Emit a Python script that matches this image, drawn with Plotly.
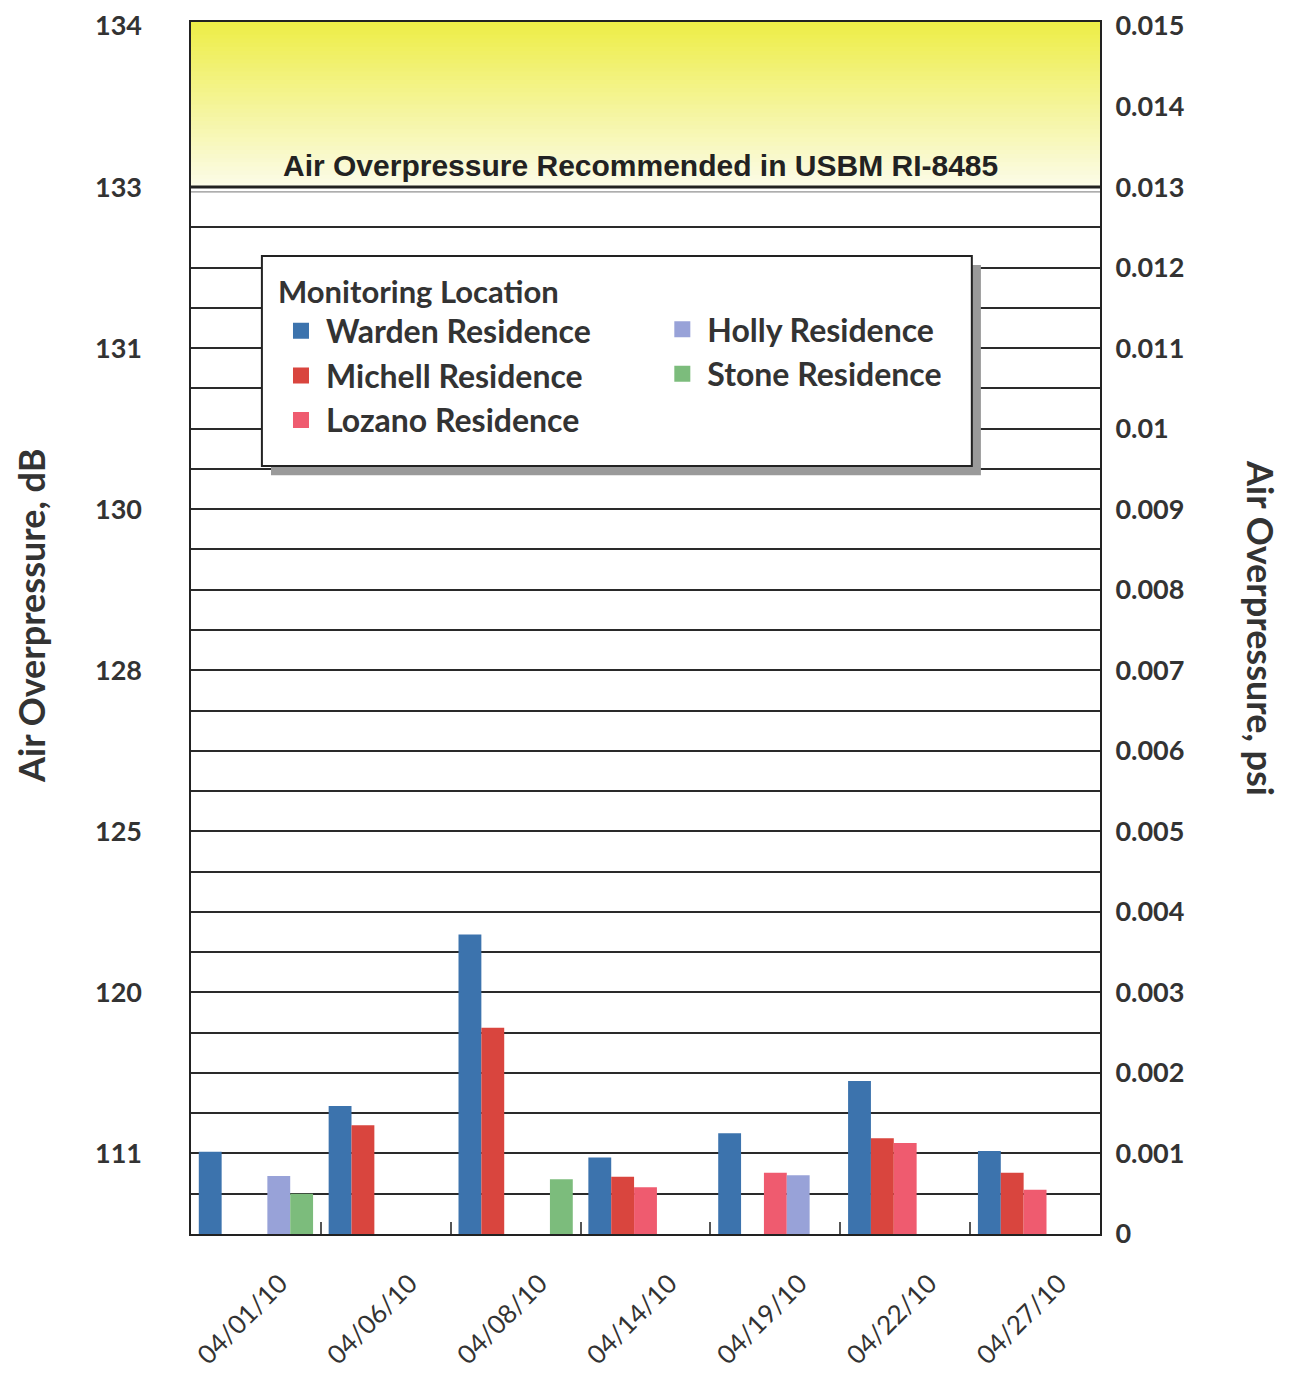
import plotly.graph_objects as go

# ---------------- data ----------------
dates = ["04/01/10", "04/06/10", "04/08/10", "04/14/10", "04/19/10", "04/22/10", "04/27/10"]
series_names = ["Warden Residence", "Michell Residence", "Lozano Residence",
                "Holly Residence", "Stone Residence"]
warden = [0.00102, 0.00159, 0.00372, 0.00095, 0.00125, 0.00190, 0.00103]
michell = [None, 0.00135, 0.00256, 0.00071, None, 0.00119, 0.00076]
lozano = [None, None, None, 0.00058, 0.00076, 0.00113, 0.00055]
holly = [0.00072, None, None, None, 0.00073, None, None]
stone = [0.00050, None, 0.00068, None, None, None, None]
series_values = [warden, michell, lozano, holly, stone]

psi_ticks = [0, 0.001, 0.002, 0.003, 0.004, 0.005, 0.006, 0.007, 0.008,
             0.009, 0.010, 0.011, 0.012, 0.013, 0.014, 0.015]
psi_labels = ["0", "0.001", "0.002", "0.003", "0.004", "0.005", "0.006", "0.007",
              "0.008", "0.009", "0.01", "0.011", "0.012", "0.013", "0.014", "0.015"]
db_tick_psi = [0.001, 0.003, 0.005, 0.007, 0.009, 0.011, 0.013, 0.015]
db_labels = ["111", "120", "125", "128", "130", "131", "133", "134"]
limit_psi = 0.013
limit_label = "Air Overpressure Recommended in USBM RI-8485"

# ---------------- style ----------------
colors = ["#3c73ad", "#d9453e", "#ef5b6f", "#98a2d8", "#7cbc7c"]
FONT = "Lato"
TXT = "#333333"
y_range = [0, 0.01505]

fig = go.Figure()

for name, vals, col in zip(series_names, series_values, colors):
    fig.add_trace(go.Bar(
        x=dates, y=vals, name=name, marker=dict(color=col, line=dict(width=0)),
        showlegend=False, legendgroup=name, yaxis="y",
    ))

# legend entries (larger square symbols), linked to the bar traces
legend_of = ["legend", "legend", "legend", "legend2", "legend2"]
for name, col, lg in zip(series_names, colors, legend_of):
    fig.add_trace(go.Scatter(
        x=[None], y=[None], mode="markers", name=name, legendgroup=name,
        marker=dict(symbol="square", size=16, color=col), legend=lg,
        hoverinfo="skip",
    ))

# invisible trace to carry the dB axis
fig.add_trace(go.Scatter(x=[dates[0]], y=[None], yaxis="y2", showlegend=False,
                         mode="markers", hoverinfo="skip"))

# yellow gradient band above the limit
n_strips = 40
top = y_range[1]
step = (top - limit_psi) / n_strips
for i in range(n_strips):
    f = i / (n_strips - 1)
    r = int(252 + (238 - 252) * f)
    g = int(252 + (238 - 252) * f)
    b = int(232 + (72 - 232) * f)
    y0 = limit_psi + step * i
    y1 = min(top, y0 + step * 1.6)
    fig.add_shape(type="rect", xref="paper", yref="y", x0=0, x1=1, y0=y0, y1=y1,
                  fillcolor=f"rgb({r},{g},{b})", line=dict(width=0), layer="above")

# limit line (double)
fig.add_shape(type="line", xref="paper", yref="y", x0=0, x1=1, y0=limit_psi, y1=limit_psi,
              line=dict(color="#222222", width=3), layer="above")
fig.add_shape(type="line", xref="paper", yref="y", x0=0, x1=1,
              y0=limit_psi - 0.00006, y1=limit_psi - 0.00006,
              line=dict(color="#777777", width=1), layer="above")
fig.add_annotation(xref="paper", yref="y", x=0.495, y=limit_psi, yshift=3,
                   text=f"<b>{limit_label}</b>", showarrow=False, yanchor="bottom",
                   font=dict(family="Liberation Sans", size=30, color="#222222"))

# legend box with shadow
fig.add_shape(type="rect", xref="paper", yref="paper", x0=0.088, x1=0.869, y0=0.626, y1=0.7995,
              fillcolor="#9a9a9a", line=dict(width=0), layer="above")
fig.add_shape(type="rect", xref="paper", yref="paper", x0=0.078, x1=0.859, y0=0.6337, y1=0.807,
              fillcolor="white", line=dict(color="#222222", width=2), layer="above")

# axis titles
fig.add_annotation(xref="paper", yref="paper", x=-0.176, y=0.51, text="<b>Air Overpressure, dB</b>",
                   textangle=-90, showarrow=False, xanchor="center", yanchor="middle",
                   font=dict(family=FONT, size=36, color=TXT))
fig.add_annotation(xref="paper", yref="paper", x=1.177, y=0.50, text="<b>Air Overpressure, psi</b>",
                   textangle=90, showarrow=False, xanchor="center", yanchor="middle",
                   font=dict(family=FONT, size=36, color=TXT))

fig.update_layout(
    width=1290, height=1378,
    margin=dict(l=183, r=198, t=14, b=152),
    paper_bgcolor="white", plot_bgcolor="white",
    barmode="group", bargap=0.12, bargroupgap=0,
    font=dict(family=FONT, color=TXT),
    xaxis=dict(
        type="category", categoryorder="array", categoryarray=dates,
        showline=True, linecolor="#222222", linewidth=2, mirror=True,
        ticks="inside", tickson="boundaries", ticklen=12, tickcolor="#555555", tickwidth=2,
        tickangle=-45, tickfont=dict(family=FONT, size=26, color=TXT),
        ticklabelstandoff=22, ticklabelshift=24, automargin=False,
        showgrid=False, range=[-0.5, 6.5],
    ),
    yaxis=dict(
        side="right", range=y_range, tickmode="array", tickvals=psi_ticks, ticktext=psi_labels,
        tickfont=dict(family=FONT, size=27, color=TXT, weight="bold"),
        ticks="", ticklabelstandoff=8, ticklabeloverflow="allow", automargin=False,
        showgrid=True, gridcolor="#2a2a2a", gridwidth=1.6,
        minor=dict(tickmode="linear", tick0=0, dtick=0.0005, showgrid=True,
                   gridcolor="#2a2a2a", gridwidth=1.6, ticks=""),
        showline=True, linecolor="#222222", linewidth=2, mirror=True, zeroline=False,
    ),
    yaxis2=dict(
        overlaying="y", side="left", range=y_range, tickmode="array",
        tickvals=db_tick_psi, ticktext=db_labels,
        tickfont=dict(family=FONT, size=27, color=TXT, weight="bold"),
        ticks="", ticklabelstandoff=48, ticklabeloverflow="allow", automargin=False,
        showgrid=False, zeroline=False, showline=False,
    ),
    legend=dict(
        x=0.0935, y=0.801, xanchor="left", yanchor="top", bgcolor="rgba(0,0,0,0)",
        borderwidth=0, font=dict(family=FONT, size=32, color=TXT, weight="bold"),
        title=dict(text="Monitoring Location",
                   font=dict(family=FONT, size=31, color=TXT, weight="bold")),
        tracegroupgap=0, itemsizing="trace", itemwidth=40,
    ),
    legend2=dict(
        x=0.513, y=0.769, xanchor="left", yanchor="top", bgcolor="rgba(0,0,0,0)",
        borderwidth=0, font=dict(family=FONT, size=32, color=TXT, weight="bold"),
        tracegroupgap=0, itemsizing="trace", itemwidth=40,
    ),
    showlegend=True,
)

fig.write_html("out.html")
